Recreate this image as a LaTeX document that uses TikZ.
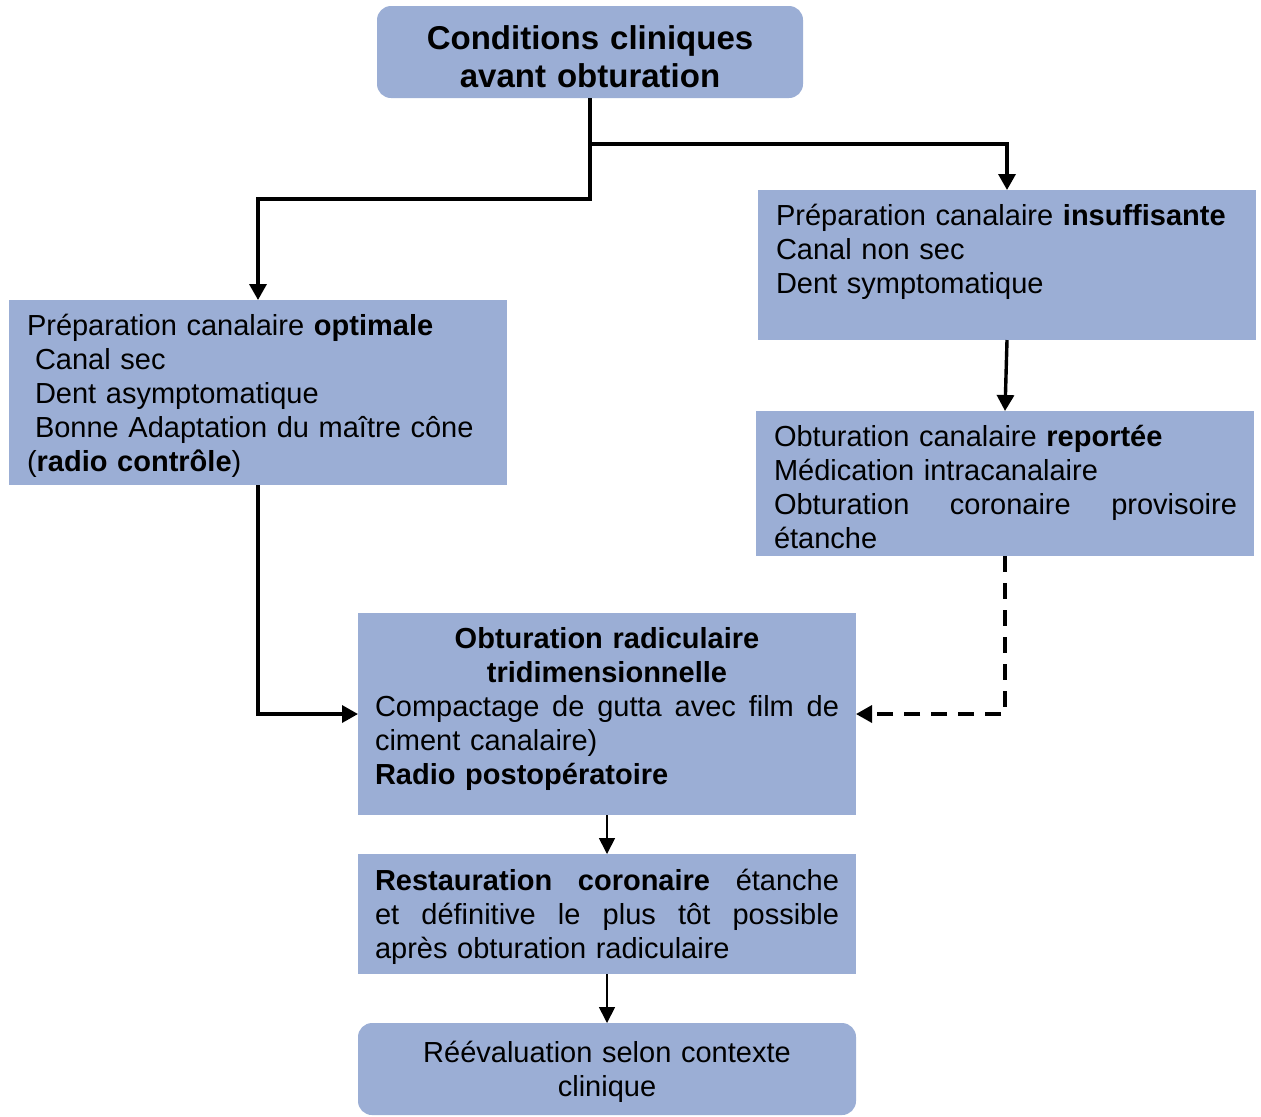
\documentclass[tikz,border=0pt]{standalone}
\usepackage{fontspec}
\setmainfont{Liberation Sans}
\usetikzlibrary{arrows.meta}
\definecolor{boxblue}{RGB}{155,174,213}
\newcommand{\myjline}[1]{\leavevmode\hbox to\linewidth{#1}}
\newcommand{\mycline}[1]{\leavevmode\hbox to\linewidth{\hfil#1\hfil}}
\begin{document}
\begin{tikzpicture}[x=0.5pt,y=-0.5pt,
  box/.style={fill=boxblue, draw=none, inner sep=0pt, outer sep=0pt},
  rbox/.style={box, rounded corners=7pt},
  txt/.style={inner sep=0pt, outer sep=0pt, text width=232pt, align=left,
    font=\fontsize{14.5}{17}\selectfont},
  ttl/.style={inner sep=0pt, outer sep=0pt, text width=213pt, align=center,
    font=\fontsize{16.5}{19}\selectfont\bfseries},
  conn/.style={line width=1.7pt, -{Triangle[width=8.5pt,length=8pt]}},
  thinconn/.style={line width=0.8pt, -{Triangle[width=8pt,length=8pt]}},
  dashconn/.style={conn, dash pattern=on 8pt off 5.5pt},
]
\useasboundingbox (0,0) rectangle (1261,1116);

% boxes
\node[rbox, minimum width=213pt, minimum height=46pt] (top) at (590,52) {};
\node[box, minimum width=249pt, minimum height=92.5pt] (opt) at (258,392.5) {};
\node[box, minimum width=249pt, minimum height=75pt] (insuf) at (1007,265) {};
\node[box, minimum width=249pt, minimum height=72.5pt] (rep) at (1005,483.5) {};
\node[box, minimum width=249pt, minimum height=101pt] (mid) at (607,714) {};
\node[box, minimum width=249pt, minimum height=60pt] (rest) at (607,914) {};
\node[rbox, minimum width=249pt, minimum height=46pt] (reev) at (607,1069) {};

% texts
\node[ttl, anchor=base] (tTop) at (590,49) {Conditions cliniques\\avant obturation};

\node[txt, anchor=base west] (tOpt) at (27,335) {%
Préparation canalaire \textbf{optimale}\\
\hspace*{4pt}Canal sec\\
\hspace*{4pt}Dent asymptomatique\\
\hspace*{4pt}Bonne Adaptation du maître cône\\
(\textbf{radio contrôle})};

\node[txt, anchor=base west] (tInsuf) at (776,225) {%
Préparation canalaire \textbf{insuffisante}\\
Canal non sec\\
Dent symptomatique};

\node[txt, anchor=base west, text width=231.5pt] (tRep) at (774,446) {%
Obturation canalaire \textbf{reportée}\\
Médication intracanalaire\\
\myjline{Obturation\hfill coronaire\hfill provisoire}\\
étanche};

\node[txt, anchor=base west] (tMid) at (375,648) {%
\mycline{\textbf{Obturation radiculaire}}\\
\mycline{\textbf{tridimensionnelle}}\\
\myjline{Compactage\hfill de\hfill gutta\hfill avec\hfill film\hfill de}\\
ciment canalaire)\\
\textbf{Radio postopératoire}};

\node[txt, anchor=base west] (tRest) at (375,890) {%
\myjline{\textbf{Restauration}\hfill\textbf{coronaire}\hfill étanche}\\
\myjline{et\hfill définitive\hfill le\hfill plus\hfill tôt\hfill possible}\\
après obturation radiculaire};

\node[txt, anchor=base, align=center] (tReev) at (607,1062) {%
Réévaluation selon contexte\\clinique};

% connectors
\coordinate (j1) at (590,144);
\coordinate (j2) at (590,199);
\draw[conn] (top.south) -- (j1) -| (insuf.north);
\draw[conn] (j1) -- (j2) -| (opt.north);
\draw[conn] (insuf.south) -- (rep.north);
\draw[conn] (opt.south) |- (mid.west);
\draw[dashconn] (rep.south) |- (mid.east);
\draw[thinconn] (mid.south) -- (rest.north);
\draw[thinconn] (rest.south) -- (reev.north);
\end{tikzpicture}
\end{document}
